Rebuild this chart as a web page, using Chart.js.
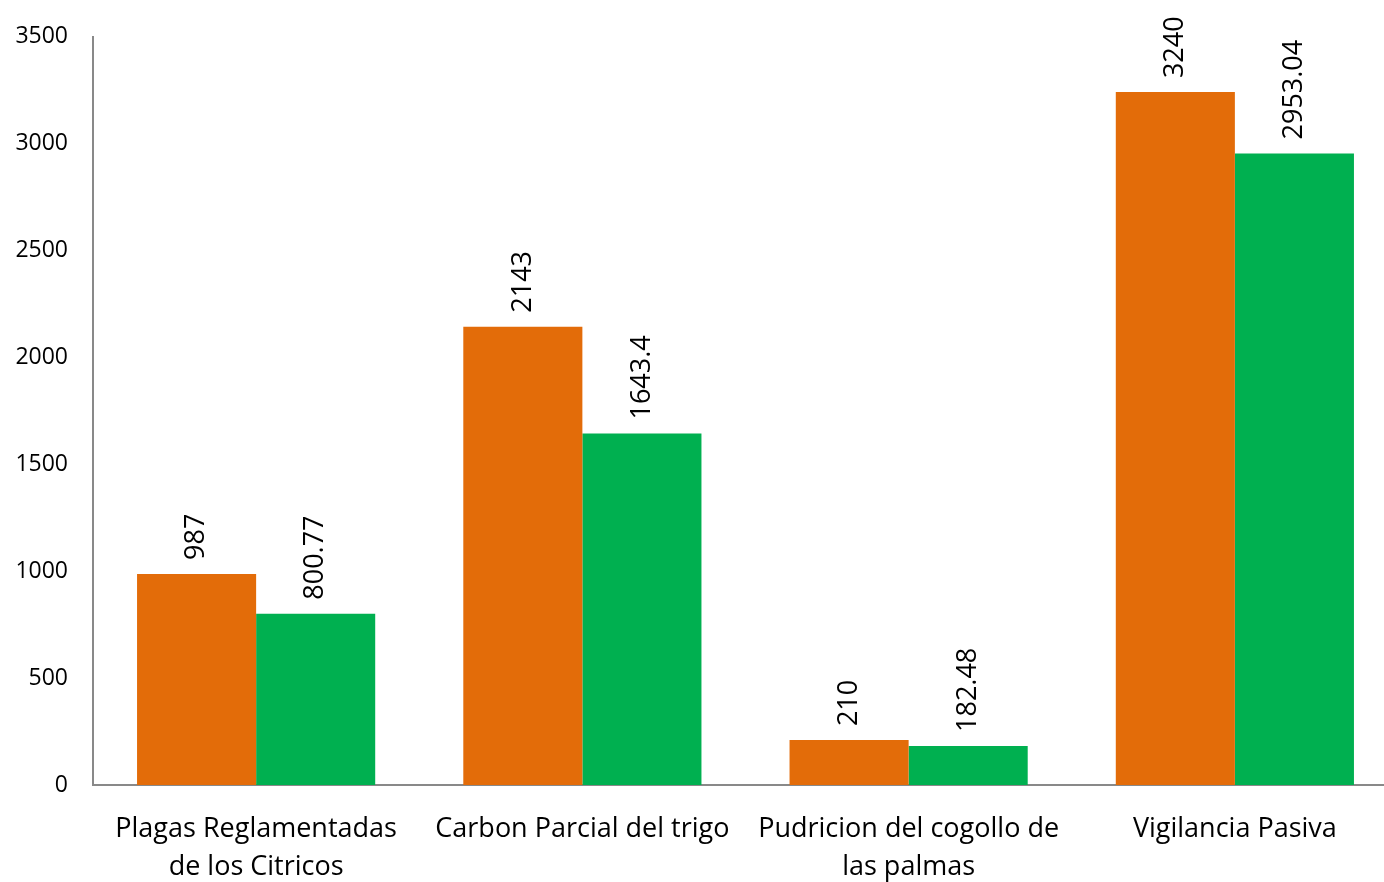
<!DOCTYPE html>
<html lang="es">
<head>
	<meta charset="UTF-8">
	<title>Chart</title>
	<style>
		html, body { margin: 0; padding: 0; background: #fff; overflow: hidden; }
		#wrap { width: 1398px; height: 882px; }
	</style>
</head>
<body>
	<div id="wrap"><canvas id="chart"></canvas></div>

	<script src="https://cdn.jsdelivr.net/npm/chart.js@4/dist/chart.umd.min.js"></script>
	<script>
		const categories = [
			["Plagas Reglamentadas", "de los Citricos"],
			"Carbon Parcial del trigo",
			["Pudricion del cogollo de", "las palmas"],
			"Vigilancia Pasiva"
		];
		const seriesA = [987, 2143, 210, 3240];
		const seriesB = [800.77, 1643.4, 182.48, 2953.04];
		const yTicks = [0, 500, 1000, 1500, 2000, 2500, 3000, 3500];

		const font = "'Open Sans', 'Noto Sans', sans-serif";

		// value labels written upward above each bar
		const barLabels = {
			id: "barLabels",
			afterDatasetsDraw(chart) {
				const ctx = chart.ctx;
				ctx.save();
				ctx.fillStyle = "#000";
				ctx.font = "27px " + font;
				ctx.textAlign = "left";
				ctx.textBaseline = "middle";
				chart.data.datasets.forEach((ds, i) => {
					chart.getDatasetMeta(i).data.forEach((bar, j) => {
						ctx.save();
						ctx.translate(bar.x, bar.y - 14);
						ctx.rotate(-Math.PI / 2);
						ctx.fillText(String(ds.data[j]), 0, 0);
						ctx.restore();
					});
				});
				ctx.restore();
			}
		};

		new Chart("chart", {
			type: "bar",
			data: {
				labels: categories,
				datasets: [
					{ data: seriesA, backgroundColor: "#E36C09" },
					{ data: seriesB, backgroundColor: "#00B050" }
				]
			},
			options: {
				responsive: true,
				maintainAspectRatio: false,
				animation: false,
				layout: { padding: { top: 29, right: 0, left: 0, bottom: 0 } },
				plugins: {
					legend: { display: false },
					tooltip: { enabled: false }
				},
				datasets: {
					bar: { categoryPercentage: 0.73, barPercentage: 1.0 }
				},
				scales: {
					x: {
						grid: { display: false, drawTicks: false },
						border: { color: "#898989", width: 2 },
						ticks: {
							color: "#000",
							font: { family: font, size: 27, lineHeight: 1.42 },
							padding: 25,
							maxRotation: 0,
							autoSkip: false
						},
						afterFit(scale) { scale.height = 97; }
					},
					y: {
						min: 0,
						max: 3500,
						afterBuildTicks(scale) { scale.ticks = yTicks.map(v => ({ value: v })); },
						grid: { display: false, drawTicks: false },
						border: { color: "#898989", width: 2 },
						ticks: {
							color: "#000",
							font: { family: font, size: 23, lineHeight: 1 },
							padding: 25,
							callback: v => String(v)
						},
						afterFit(scale) { scale.width = 93; }
					}
				}
			},
			plugins: [barLabels]
		});
	</script>
</body>
</html>
